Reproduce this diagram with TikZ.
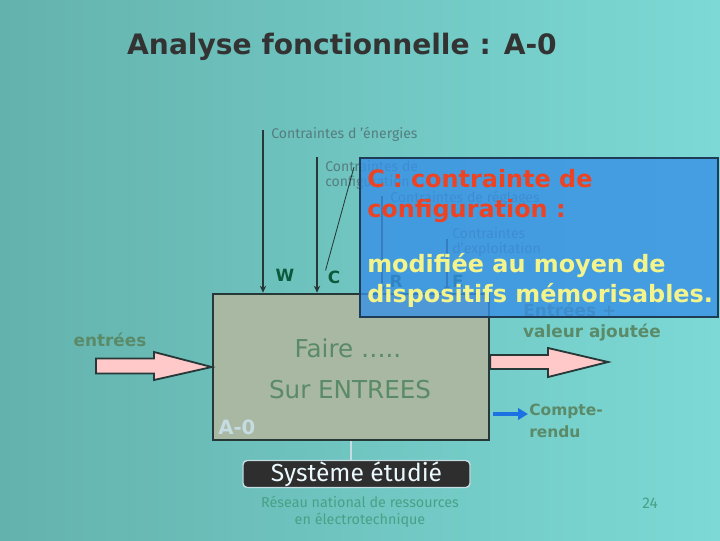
\documentclass[tikz,border=0pt]{standalone}
\usepackage{fontspec}
\setmainfont{Fira Sans}
\newfontfamily\comic{DejaVu Sans}
\usetikzlibrary{arrows.meta,calc}

\definecolor{bgleft}{HTML}{64B2AD}
\definecolor{bgright}{HTML}{7CD9D5}
\definecolor{boxfill}{HTML}{A8B8A2}
\definecolor{edge}{HTML}{273838}
\definecolor{memo}{HTML}{3890E6}
\definecolor{memoedge}{HTML}{1E3C55}
\definecolor{warn}{HTML}{EC4324}
\definecolor{hint}{HTML}{F4F48C}
\definecolor{flow}{HTML}{FFC9C9}
\definecolor{tagc}{HTML}{0C5A3C}
\definecolor{notec}{HTML}{5A8A68}
\definecolor{faint}{HTML}{557E80}
\definecolor{report}{HTML}{1C72E2}
\definecolor{code}{HTML}{C4DCE2}

\tikzset{
  ctrl/.style={draw=edge, line width=1.4pt, -{Stealth[length=5pt,width=4.5pt]}},
  small/.style={text=faint, font=\fontsize{10}{11}\selectfont, align=left, inner sep=0pt},
  tag/.style={text=tagc, font=\comic\fontsize{12}{14}\selectfont\bfseries, inner sep=0pt},
  act/.style={text=notec, font=\comic\fontsize{17.5}{21}\selectfont},
  lbl/.style={text=notec, font=\comic\fontsize{12}{15.5}\selectfont\bfseries, inner sep=0pt},
  fat/.style={fill=flow, draw=edge, line width=1.3pt, line join=miter},
  big/.style={font=\comic\fontsize{17}{21.3}\selectfont\bfseries, align=left, inner sep=0pt},
}

\begin{document}
\begin{tikzpicture}[x=0.025cm, y=-0.025cm]

\useasboundingbox (0,0) rectangle (720,540);
\shade[left color=bgleft, right color=bgright] (0,0) rectangle (720,540);

%% title
\node[text=black!80, font=\comic\fontsize{20}{24}\selectfont\bfseries] (ttl) at (342,47) {Analyse fonctionnelle : A-0};

%% main activity box
\node[draw=edge, fill=boxfill, line width=1.8pt, minimum width=6.9cm, minimum height=3.65cm] (box) at (351,367) {};
\node[act] (faire) at (348,348) {Faire …..};
\node[act] (sur) at (350,390) {Sur ENTREES};
\node[text=code, font=\comic\fontsize{14}{16}\selectfont\bfseries, anchor=west, inner sep=0pt] (a0) at (218,427) {A-0};

%% energy constraints
\coordinate (w0) at (263,130);
\node[small, anchor=west] (wtxt) at (271,134) {Contraintes d ’énergies};
\node[tag] (wlab) at (285,275) {W};
\draw[ctrl] (w0) -- (w0 |- box.north);

%% configuration constraints
\coordinate (c0) at (317,157);
\node[small, anchor=west] (ctxt) at (325,175) {Contraintes de\\configuration};
\node[tag] (clab) at (334,277) {C};
\coordinate (cpin) at (354,167);
\draw[ctrl] (c0) -- (c0 |- box.north);
\draw[edge, line width=0.6pt] (cpin) -- ($(clab.north west)+(-2,0)$);

%% setting constraints
\coordinate (r0) at (382,196);
\node[small, anchor=west] (rtxt) at (390,198) {Contraintes de réglages};
\node[tag] (rlab) at (396,281) {R};
\draw[ctrl] (r0) -- (r0 |- box.north);

%% operating constraints
\coordinate (e0) at (447,239);
\node[small, anchor=west] (etxt) at (452,242) {Contraintes\\d’exploitation};
\node[tag] (elab) at (458,281) {E};
\draw[ctrl] (e0) -- (e0 |- box.north);

%% inputs
\coordinate (inl) at (96,366);
\node[lbl] (intxt) at (110,340) {entrées};
\filldraw[fat] ($(inl)+(0,-7.5)$) -- ($(inl)+(58,-7.5)$) -- ($(inl)+(58,-14)$) -- (box.west)
  -- ($(inl)+(58,14)$) -- ($(inl)+(58,7.5)$) -- ($(inl)+(0,7.5)$) -- cycle;

%% outputs
\coordinate (outr) at (608,362);
\node[lbl, anchor=west] (outtop) at (523,310) {Entrées +};
\node[lbl] (outtxt) at (592,333) {valeur ajoutée};
\filldraw[fat] ($(box.east |- outr)+(0,-7)$) -- ($(outr)+(-60,-7)$) -- ($(outr)+(-60,-14)$) -- (outr)
  -- ($(outr)+(-60,15)$) -- ($(outr)+(-60,7)$) -- ($(box.east |- outr)+(0,7)$) -- cycle;

%% report
\coordinate (cr) at (528,414);
\node[lbl, font=\comic\fontsize{11}{15.5}\selectfont\bfseries, anchor=west, align=left] (crtxt) at (529,421) {Compte-\\rendu};
\draw[report, line width=3.5pt, -{Triangle[length=7pt,width=8pt]}] ($(box.east |- cr)+(3,0)$) -- (cr);

%% memo box on top
\node[draw=memoedge, fill=memo, fill opacity=0.8, line width=1.2pt,
      minimum width=8.95cm, minimum height=3.975cm] (memo) at (539,237.5) {};
\node[big, text=warn, anchor=west] (memo1) at (367,196) {C : contrainte de\\configuration :};
\node[big, text=hint, anchor=west] (memo2) at (367,280) {modifiée au moyen de\\dispositifs mémorisables.};

%% studied system
\node[fill=black!82, draw=code, line width=1pt, rounded corners=3pt, text=white!92!cyan,
      font=\fontsize{17.5}{20}\selectfont, minimum width=5.675cm, minimum height=0.675cm,
      inner sep=0pt] (sys) at (356.5,474) {Système étudié};
\draw[code, line width=1pt] (box.south) -- (box.south |- sys.north);

%% footer
\node[text=notec!80!cyan, font=\fontsize{10.2}{12}\selectfont, align=center] (foot) at (360,512)
  {Réseau national de ressources\\en électrotechnique};
\node[text=notec!80!cyan, font=\fontsize{11}{13}\selectfont] (page) at (650,503) {24};

\end{tikzpicture}
\end{document}
